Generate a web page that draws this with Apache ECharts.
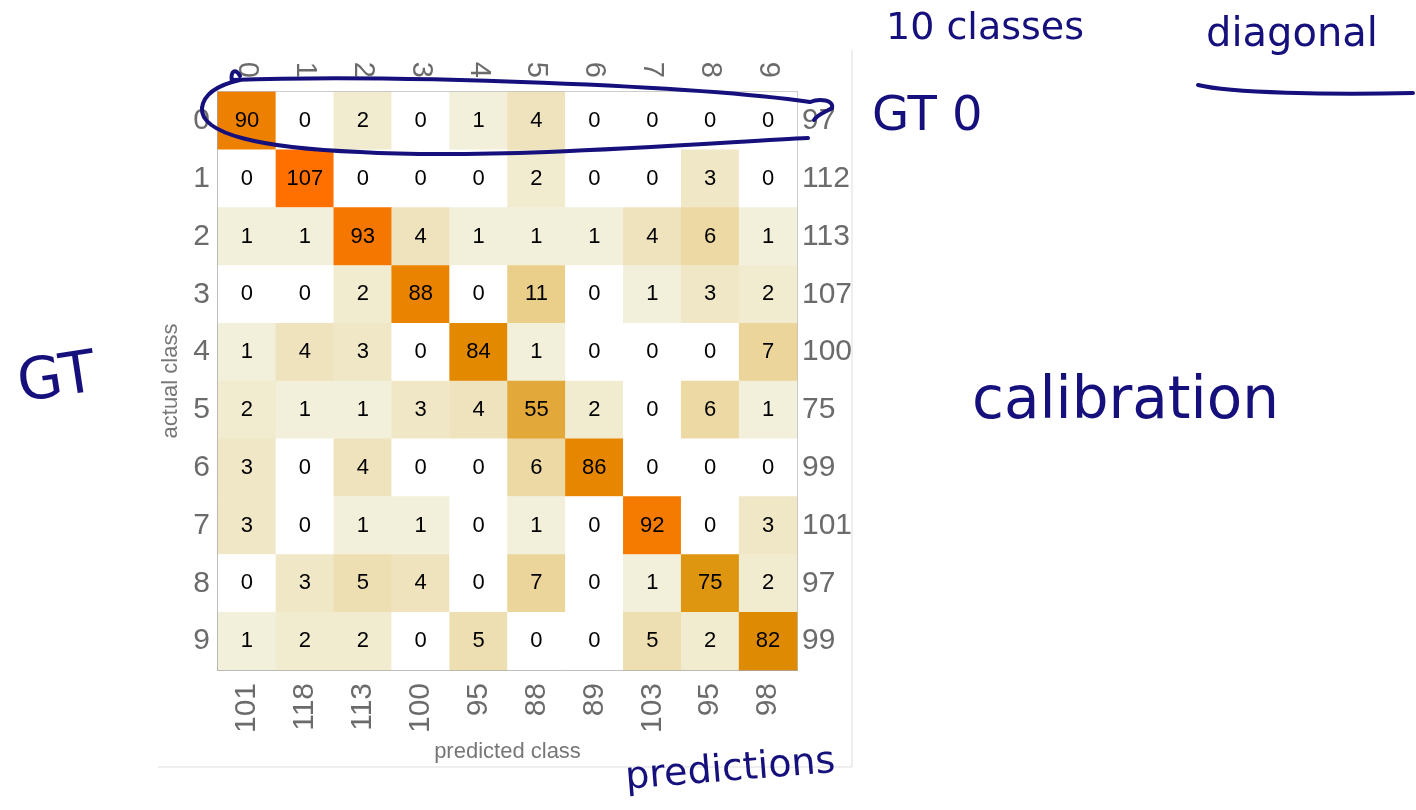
<!DOCTYPE html>
<html>
<head>
<meta charset="utf-8">
<script src="https://cdn.jsdelivr.net/npm/echarts@6/dist/echarts.min.js"></script>
<style>
html,body{margin:0;padding:0;background:#fff;}
#chart{width:1416px;height:810px;}
</style>
</head>
<body>
<div id="chart"></div>
<script>
// ---- data ----
var classes = ['0','1','2','3','4','5','6','7','8','9'];
var rowTotals = ['97','112','113','107','100','75','99','101','97','99'];
var colTotals = ['101','118','113','100','95','88','89','103','95','98'];
var row0 = [90, 0, 2, 0, 1, 4, 0, 0, 0, 0];
var row1 = [0, 107, 0, 0, 0, 2, 0, 0, 3, 0];
var row2 = [1, 1, 93, 4, 1, 1, 1, 4, 6, 1];
var row3 = [0, 0, 2, 88, 0, 11, 0, 1, 3, 2];
var row4 = [1, 4, 3, 0, 84, 1, 0, 0, 0, 7];
var row5 = [2, 1, 1, 3, 4, 55, 2, 0, 6, 1];
var row6 = [3, 0, 4, 0, 0, 6, 86, 0, 0, 0];
var row7 = [3, 0, 1, 1, 0, 1, 0, 92, 0, 3];
var row8 = [0, 3, 5, 4, 0, 7, 0, 1, 75, 2];
var row9 = [1, 2, 2, 0, 5, 0, 0, 5, 2, 82];
var matrix = [row0,row1,row2,row3,row4,row5,row6,row7,row8,row9];

var cells = [];
matrix.forEach(function(r, i){ r.forEach(function(v, j){ cells.push([j, i, v]); }); });

var ink = '#15107c';
var axisGray = '#a8a8a8';
var labelGray = '#6b6b6b';
var font = 'Liberation Sans';

function bez(x1,y1,cx1,cy1,cx2,cy2,x2,y2){
  return { type:'bezierCurve', z:100, silent:true,
    shape:{ x1:x1, y1:y1, cpx1:cx1, cpy1:cy1, cpx2:cx2, cpy2:cy2, x2:x2, y2:y2 },
    style:{ fill:null, stroke: ink, lineWidth:4, lineCap:'round' } };
}

var chart = echarts.init(document.getElementById('chart'), null, {renderer:'canvas'});
chart.setOption({
  backgroundColor: '#ffffff',
  animation: false,
  grid: { left: 218, right: 619, top: 92, bottom: 140 },
  xAxis: [
    { type:'category', data: classes, position:'top',
      axisLine:{ show:true, lineStyle:{ color: axisGray, width:1.5 } },
      axisTick:{ show:true, inside:true, alignWithLabel:true, length:5, lineStyle:{ color: axisGray } },
      axisLabel:{ rotate:90, margin:14, fontSize:29, color: labelGray, fontFamily: font },
      splitLine:{ show:false } },
    { type:'category', data: colTotals, position:'bottom',
      name:'predicted class', nameLocation:'middle', nameGap:70,
      nameTextStyle:{ fontSize:22, color:'#777', fontFamily: font },
      axisLine:{ show:true, lineStyle:{ color: '#8c8c8c', width:1.5 } },
      axisTick:{ show:true, inside:true, alignWithLabel:true, length:5, lineStyle:{ color: axisGray } },
      axisLabel:{ rotate:90, margin:13, fontSize:30, color: labelGray, fontFamily: font },
      splitLine:{ show:false } }
  ],
  yAxis: [
    { type:'category', data: classes, inverse:true, position:'left',
      name:'actual class', nameLocation:'middle', nameGap:36,
      nameTextStyle:{ fontSize:22, color:'#777', fontFamily: font },
      axisLine:{ show:true, lineStyle:{ color: '#8c8c8c', width:1.5 } },
      axisTick:{ show:true, inside:true, alignWithLabel:true, length:5, lineStyle:{ color: axisGray } },
      axisLabel:{ margin:8, fontSize:30, color: labelGray, fontFamily: font },
      splitLine:{ show:false } },
    { type:'category', data: rowTotals, inverse:true, position:'right',
      axisLine:{ show:true, lineStyle:{ color: axisGray, width:1.5 } },
      axisTick:{ show:true, inside:true, alignWithLabel:true, length:5, lineStyle:{ color: axisGray } },
      axisLabel:{ margin:5, fontSize:30, color: labelGray, fontFamily: font },
      splitLine:{ show:false } }
  ],
  visualMap: {
    type:'piecewise', show:false, dimension:2, seriesIndex:0,
    pieces: [
      { min:0, max:0, color:'#ffffff' },
      { min:1, max:1, color:'#f2efdb' },
      { min:2, max:2, color:'#f1ebcf' },
      { min:3, max:3, color:'#f0e7c6' },
      { min:4, max:4, color:'#efe3bd' },
      { min:5, max:5, color:'#eedfb2' },
      { min:6, max:6, color:'#edd9a4' },
      { min:7, max:7, color:'#ecd59a' },
      { min:8, max:20, color:'#eacf8a' },
      { min:21, max:65, color:'#e2a83a' },
      { min:66, max:78, color:'#de950f' },
      { min:79, max:83, color:'#de8b03' },
      { min:84, max:85, color:'#e28900' },
      { min:86, max:87, color:'#e78600' },
      { min:88, max:89, color:'#ea8300' },
      { min:90, max:91, color:'#ee8000' },
      { min:92, max:92, color:'#f47a00' },
      { min:93, max:99, color:'#f57700' },
      { min:100, max:200, color:'#ff7000' }
    ]
  },
  series: [{
    type:'heatmap', xAxisIndex:0, yAxisIndex:0, data: cells,
    label:{ show:true, color:'#000', fontSize:22, fontFamily: font },
    itemStyle:{ borderWidth:0 },
    emphasis:{ disabled:true }
  }],
  graphic: [
    { type:'line', silent:true, shape:{ x1:852, y1:50, x2:852, y2:767 }, style:{ stroke:'#dddddd', lineWidth:1 } },
    { type:'line', silent:true, shape:{ x1:158, y1:767, x2:852, y2:767 }, style:{ stroke:'#dddddd', lineWidth:1 } },
    // hand-drawn loop around row 0
    bez(232,82, 230,70, 236,68, 240,76),
    bez(232,80, 400,74, 700,86, 810,102),
    bez(810,102, 820,98, 834,100, 832,108),
    bez(832,108, 826,112, 818,114, 814,120),
    bez(808,138, 720,142, 500,160, 360,152),
    bez(360,152, 260,148, 200,134, 202,108),
    bez(202,108, 204,92, 222,84, 240,80),
    // underline for "diagonal"
    bez(1198,85, 1230,93, 1330,95, 1413,93),
    { type:'text', z:100, left:886, top:10, style:{ text:'10 classes', fill: ink, font:'38px "DejaVu Sans"' } },
    { type:'text', z:100, left:1206, top:16, style:{ text:'diagonal', fill: ink, font:'40px "DejaVu Sans"' } },
    { type:'text', z:100, left:872, top:94, style:{ text:'GT 0', fill: ink, font:'48px "DejaVu Sans"' } },
    { type:'text', z:100, x:14, y:358, rotation:0.15, style:{ text:'GT', fill: ink, font:'58px "DejaVu Sans"' } },
    { type:'text', z:100, left:972, top:374, style:{ text:'calibration', fill: ink, font:'58px "DejaVu Sans"' } },
    { type:'text', z:100, x:624, y:760, rotation:0.08, style:{ text:'predictions', fill: ink, font:'38px "DejaVu Sans"' } }
  ]
});
</script>
</body>
</html>
